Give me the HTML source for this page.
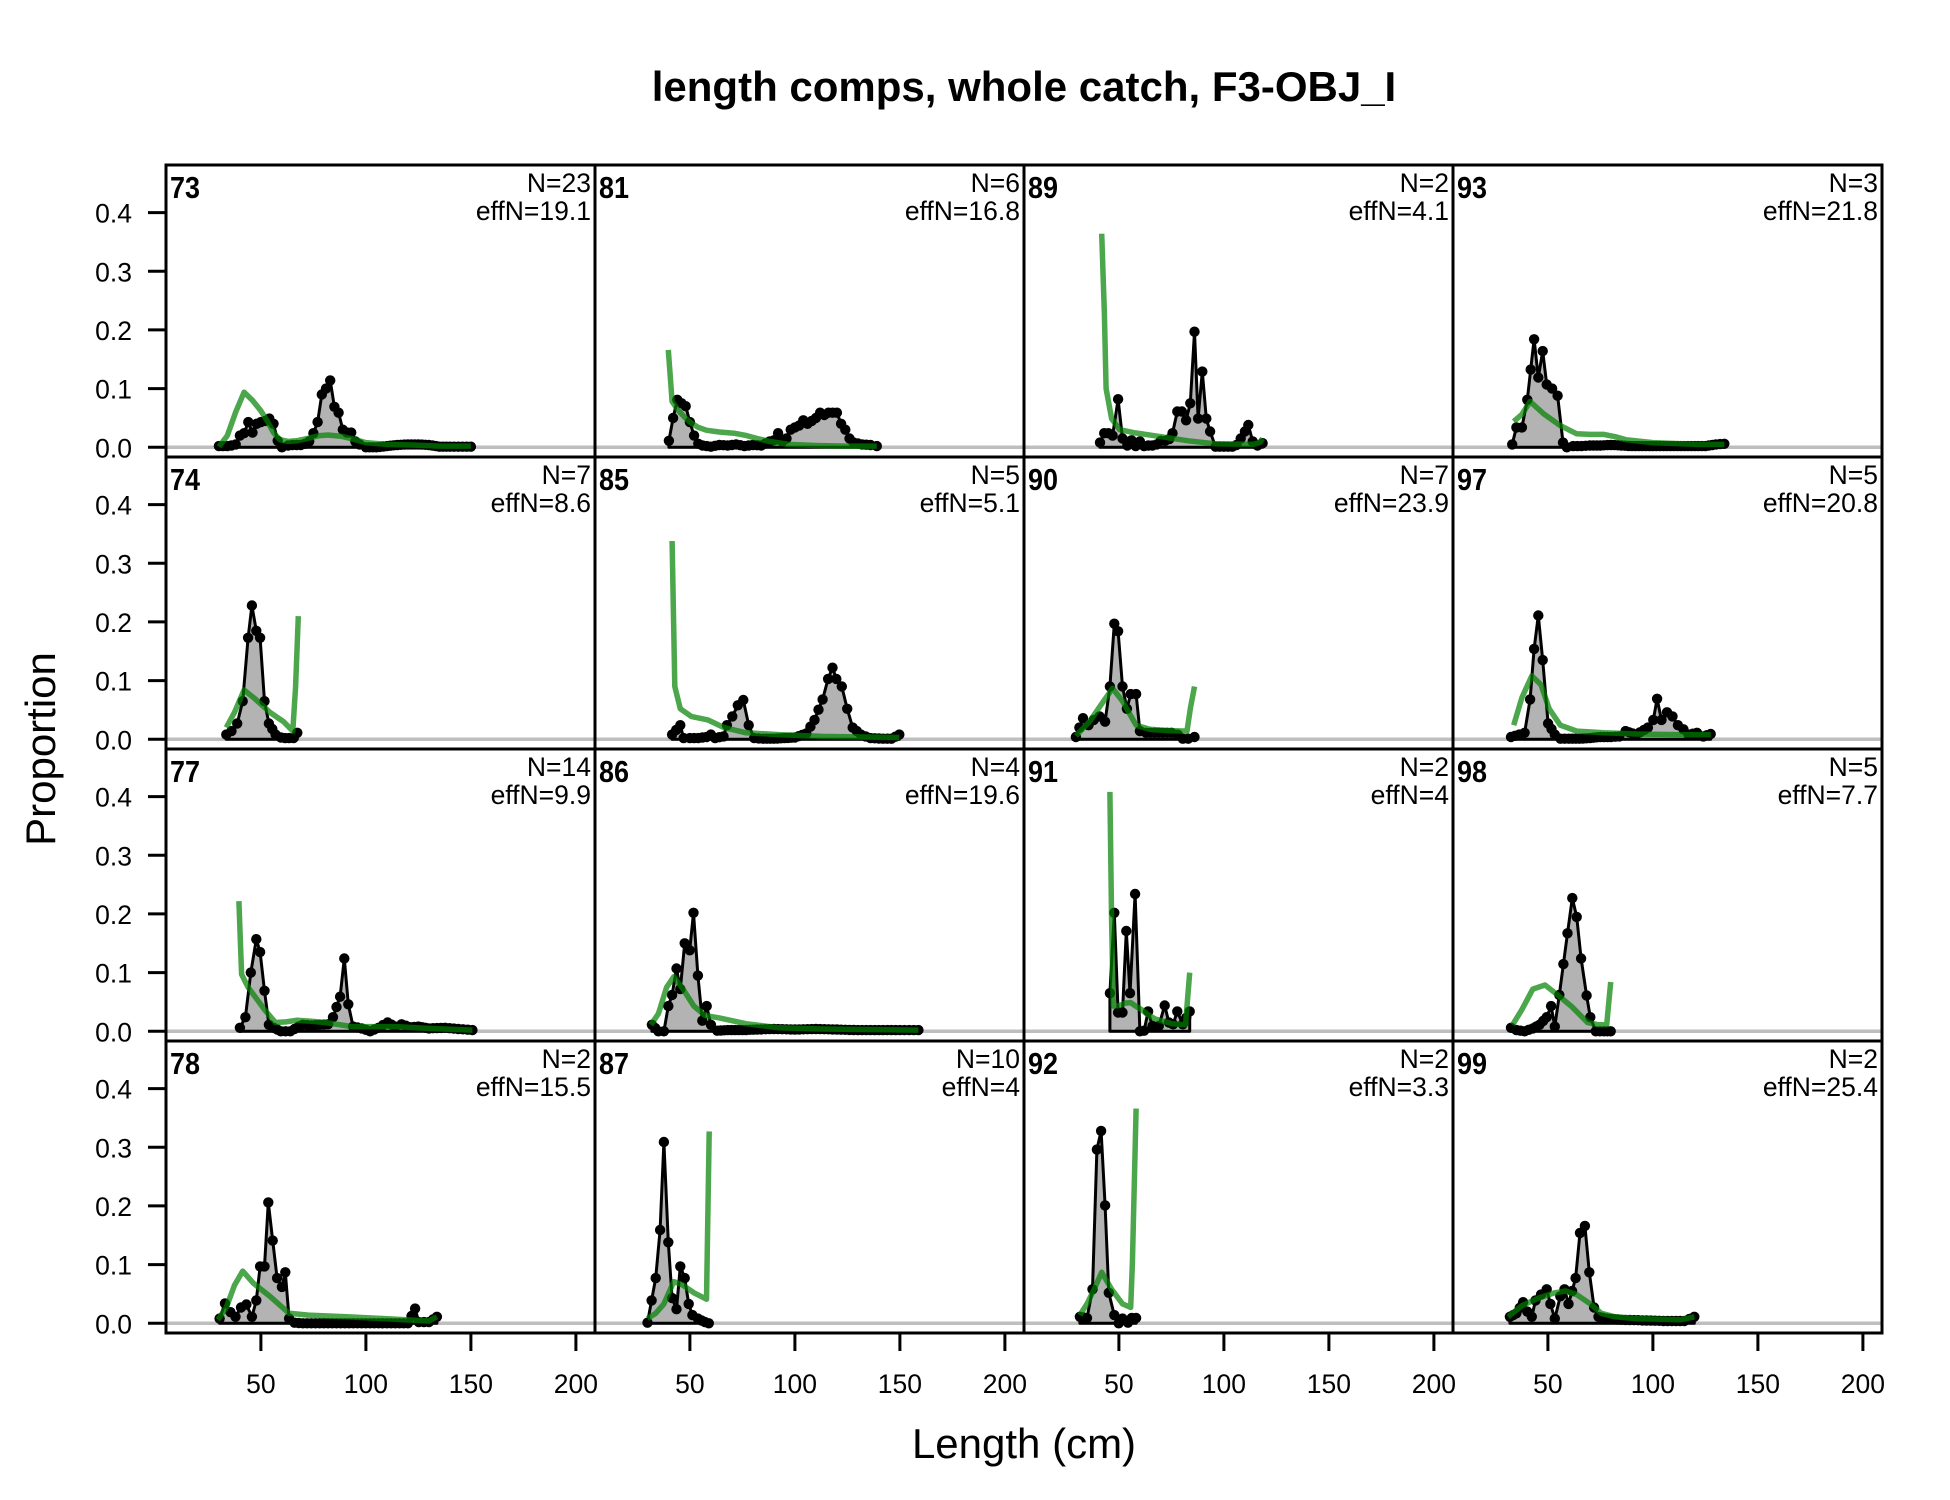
<!DOCTYPE html>
<html>
<head>
<meta charset="utf-8">
<style>
html,body{margin:0;padding:0;background:#fff;}
svg{display:block;}
text{font-family:"Liberation Sans",Arial,sans-serif;fill:#000;}
.tk{font-size:26.5px;}
.nt{font-size:26.5px;}
.pl{font-size:31px;font-weight:bold;}
</style>
</head>
<body>
<svg id="chart" width="1950" height="1500" viewBox="0 0 1950 1500" xmlns="http://www.w3.org/2000/svg">
<rect x="0" y="0" width="1950" height="1500" fill="#fff"/>
<text x="1024" y="101" text-anchor="middle" style="font-size:42px;font-weight:bold;">length comps, whole catch, F3-OBJ_I</text>
<text x="1024" y="1458" text-anchor="middle" style="font-size:42px;">Length (cm)</text>
<text x="55" y="749" text-anchor="middle" transform="rotate(-90 55 749)" style="font-size:42px;">Proportion</text>

<g id="zerolines" stroke="#bebebe" stroke-width="3.5">
<line x1="166" x2="1882" y1="447.3" y2="447.3"/>
<line x1="166" x2="1882" y1="739.3" y2="739.3"/>
<line x1="166" x2="1882" y1="1031.3" y2="1031.3"/>
<line x1="166" x2="1882" y1="1323.3" y2="1323.3"/>
</g>

<g id="data"></g>

<g stroke="#000" stroke-width="3" fill="none">
<rect x="166" y="165" width="1716" height="1168"/>
<line x1="595" x2="595" y1="165" y2="1333"/>
<line x1="1024" x2="1024" y1="165" y2="1333"/>
<line x1="1453" x2="1453" y1="165" y2="1333"/>
<line x1="166" x2="1882" y1="457" y2="457"/>
<line x1="166" x2="1882" y1="749" y2="749"/>
<line x1="166" x2="1882" y1="1041" y2="1041"/>
</g>

<g stroke="#000" stroke-width="3">
<line x1="148" x2="166" y1="447.3" y2="447.3"/><line x1="148" x2="166" y1="388.6" y2="388.6"/><line x1="148" x2="166" y1="329.9" y2="329.9"/><line x1="148" x2="166" y1="271.3" y2="271.3"/><line x1="148" x2="166" y1="212.6" y2="212.6"/>
<line x1="148" x2="166" y1="739.3" y2="739.3"/><line x1="148" x2="166" y1="680.6" y2="680.6"/><line x1="148" x2="166" y1="621.9" y2="621.9"/><line x1="148" x2="166" y1="563.3" y2="563.3"/><line x1="148" x2="166" y1="504.6" y2="504.6"/>
<line x1="148" x2="166" y1="1031.3" y2="1031.3"/><line x1="148" x2="166" y1="972.6" y2="972.6"/><line x1="148" x2="166" y1="913.9" y2="913.9"/><line x1="148" x2="166" y1="855.3" y2="855.3"/><line x1="148" x2="166" y1="796.6" y2="796.6"/>
<line x1="148" x2="166" y1="1323.3" y2="1323.3"/><line x1="148" x2="166" y1="1264.6" y2="1264.6"/><line x1="148" x2="166" y1="1205.9" y2="1205.9"/><line x1="148" x2="166" y1="1147.3" y2="1147.3"/><line x1="148" x2="166" y1="1088.6" y2="1088.6"/>
</g>
<g class="tk" text-anchor="end">
<text x="132" y="457.3">0.0</text><text x="132" y="398.6">0.1</text><text x="132" y="339.9">0.2</text><text x="132" y="281.3">0.3</text><text x="132" y="222.6">0.4</text>
<text x="132" y="749.3">0.0</text><text x="132" y="690.6">0.1</text><text x="132" y="631.9">0.2</text><text x="132" y="573.3">0.3</text><text x="132" y="514.6">0.4</text>
<text x="132" y="1041.3">0.0</text><text x="132" y="982.6">0.1</text><text x="132" y="923.9">0.2</text><text x="132" y="865.3">0.3</text><text x="132" y="806.6">0.4</text>
<text x="132" y="1333.3">0.0</text><text x="132" y="1274.6">0.1</text><text x="132" y="1215.9">0.2</text><text x="132" y="1157.3">0.3</text><text x="132" y="1098.6">0.4</text>
</g>

<g stroke="#000" stroke-width="3">
<line x1="260.9" x2="260.9" y1="1333" y2="1351"/><line x1="365.9" x2="365.9" y1="1333" y2="1351"/><line x1="470.9" x2="470.9" y1="1333" y2="1351"/><line x1="575.9" x2="575.9" y1="1333" y2="1351"/>
<line x1="689.9" x2="689.9" y1="1333" y2="1351"/><line x1="794.9" x2="794.9" y1="1333" y2="1351"/><line x1="899.9" x2="899.9" y1="1333" y2="1351"/><line x1="1004.9" x2="1004.9" y1="1333" y2="1351"/>
<line x1="1118.9" x2="1118.9" y1="1333" y2="1351"/><line x1="1223.9" x2="1223.9" y1="1333" y2="1351"/><line x1="1328.9" x2="1328.9" y1="1333" y2="1351"/><line x1="1433.9" x2="1433.9" y1="1333" y2="1351"/>
<line x1="1547.9" x2="1547.9" y1="1333" y2="1351"/><line x1="1652.9" x2="1652.9" y1="1333" y2="1351"/><line x1="1757.9" x2="1757.9" y1="1333" y2="1351"/><line x1="1862.9" x2="1862.9" y1="1333" y2="1351"/>
</g>
<g class="tk" text-anchor="middle">
<text x="260.9" y="1393">50</text><text x="365.9" y="1393">100</text><text x="470.9" y="1393">150</text><text x="575.9" y="1393">200</text>
<text x="689.9" y="1393">50</text><text x="794.9" y="1393">100</text><text x="899.9" y="1393">150</text><text x="1004.9" y="1393">200</text>
<text x="1118.9" y="1393">50</text><text x="1223.9" y="1393">100</text><text x="1328.9" y="1393">150</text><text x="1433.9" y="1393">200</text>
<text x="1547.9" y="1393">50</text><text x="1652.9" y="1393">100</text><text x="1757.9" y="1393">150</text><text x="1862.9" y="1393">200</text>
</g>

<g class="pl">
<text x="170" y="198" textLength="30" lengthAdjust="spacingAndGlyphs">73</text>
<text x="170" y="490" textLength="30" lengthAdjust="spacingAndGlyphs">74</text>
<text x="170" y="782" textLength="30" lengthAdjust="spacingAndGlyphs">77</text>
<text x="170" y="1074" textLength="30" lengthAdjust="spacingAndGlyphs">78</text>
<text x="599" y="198" textLength="30" lengthAdjust="spacingAndGlyphs">81</text>
<text x="599" y="490" textLength="30" lengthAdjust="spacingAndGlyphs">85</text>
<text x="599" y="782" textLength="30" lengthAdjust="spacingAndGlyphs">86</text>
<text x="599" y="1074" textLength="30" lengthAdjust="spacingAndGlyphs">87</text>
<text x="1028" y="198" textLength="30" lengthAdjust="spacingAndGlyphs">89</text>
<text x="1028" y="490" textLength="30" lengthAdjust="spacingAndGlyphs">90</text>
<text x="1028" y="782" textLength="30" lengthAdjust="spacingAndGlyphs">91</text>
<text x="1028" y="1074" textLength="30" lengthAdjust="spacingAndGlyphs">92</text>
<text x="1457" y="198" textLength="30" lengthAdjust="spacingAndGlyphs">93</text>
<text x="1457" y="490" textLength="30" lengthAdjust="spacingAndGlyphs">97</text>
<text x="1457" y="782" textLength="30" lengthAdjust="spacingAndGlyphs">98</text>
<text x="1457" y="1074" textLength="30" lengthAdjust="spacingAndGlyphs">99</text>
</g>

<g class="nt" text-anchor="end">
<text x="591" y="192">N=23</text><text x="591" y="220">effN=19.1</text>
<text x="591" y="484">N=7</text><text x="591" y="512">effN=8.6</text>
<text x="591" y="776">N=14</text><text x="591" y="804">effN=9.9</text>
<text x="591" y="1068">N=2</text><text x="591" y="1096">effN=15.5</text>
<text x="1020" y="192">N=6</text><text x="1020" y="220">effN=16.8</text>
<text x="1020" y="484">N=5</text><text x="1020" y="512">effN=5.1</text>
<text x="1020" y="776">N=4</text><text x="1020" y="804">effN=19.6</text>
<text x="1020" y="1068">N=10</text><text x="1020" y="1096">effN=4</text>
<text x="1449" y="192">N=2</text><text x="1449" y="220">effN=4.1</text>
<text x="1449" y="484">N=7</text><text x="1449" y="512">effN=23.9</text>
<text x="1449" y="776">N=2</text><text x="1449" y="804">effN=4</text>
<text x="1449" y="1068">N=2</text><text x="1449" y="1096">effN=3.3</text>
<text x="1878" y="192">N=3</text><text x="1878" y="220">effN=21.8</text>
<text x="1878" y="484">N=5</text><text x="1878" y="512">effN=20.8</text>
<text x="1878" y="776">N=5</text><text x="1878" y="804">effN=7.7</text>
<text x="1878" y="1068">N=2</text><text x="1878" y="1096">effN=25.4</text>
</g>
</svg>

<script>
(function(){
var L=[166,595,1024,1453], T=[165,457,749,1041];
function X(c,x){return L[c]+(x-4.8)*2.1;}
function Y(r,y){return T[r]+282.3-y*586.7;}
var P=[
{c:0,r:0,
o:[[30,0.002],[32,0.002],[34,0.002],[36,0.003],[38,0.005],[40,0.02],[42,0.024],[44,0.043],[46,0.025],[48,0.04],[50,0.043],[52,0.045],[54,0.049],[56,0.04],[58,0.011],[60,0.0],[63,0.003],[65,0.004],[67,0.004],[69,0.004],[71,0.006],[73,0.01],[75,0.024],[77,0.043],[79,0.09],[81,0.1],[83,0.114],[85,0.069],[87,0.059],[89,0.03],[91,0.025],[93,0.025],[95,0.01],[97,0.005],[100,0.0],[105,0.0],[110,0.002],[115,0.004],[120,0.005],[125,0.005],[130,0.004],[135,0.001],[140,0.001],[150,0.001]],
e:[[30,0.001],[34,0.02],[38,0.06],[42,0.094],[46,0.08],[50,0.062],[53,0.045],[56,0.025],[59,0.013],[63,0.01],[67,0.011],[72,0.015],[78,0.02],[82,0.021],[88,0.019],[94,0.014],[100,0.008],[110,0.005],[122,0.004],[135,0.002],[150,0.002]]},
{c:1,r:0,
o:[[40,0.011],[42,0.05],[44,0.081],[46,0.075],[48,0.07],[50,0.043],[52,0.02],[54,0.006],[56,0.003],[60,0.001],[64,0.004],[68,0.003],[72,0.005],[76,0.002],[80,0.004],[84,0.003],[88,0.01],[90,0.012],[92,0.024],[94,0.01],[96,0.015],[98,0.03],[100,0.034],[102,0.037],[104,0.046],[106,0.04],[108,0.045],[110,0.05],[112,0.059],[114,0.055],[116,0.059],[118,0.059],[120,0.059],[122,0.04],[124,0.03],[126,0.015],[128,0.008],[132,0.005],[136,0.004],[139,0.002]],
e:[[39.7,0.166],[41.5,0.078],[44,0.065],[47,0.053],[50,0.043],[54,0.034],[58,0.029],[64,0.026],[71,0.024],[77,0.02],[82,0.015],[88,0.01],[97,0.005],[110,0.003],[125,0.002],[139,0.002]]},
{c:2,r:0,
o:[[41,0.008],[43,0.024],[45,0.024],[47,0.02],[49.6,0.082],[51.7,0.015],[54,0.003],[56,0.012],[58,0.002],[60,0.01],[62,0.002],[64,0.003],[66,0.003],[68,0.005],[70,0.011],[72,0.011],[74,0.014],[75.5,0.024],[77.8,0.061],[80,0.061],[82,0.046],[84,0.075],[86,0.197],[87.7,0.049],[89.7,0.129],[91.6,0.049],[93.4,0.027],[96,0.001],[100,0.001],[104,0.001],[106,0.004],[108,0.015],[110,0.027],[111.6,0.038],[113.7,0.01],[116,0.003],[118.4,0.007]],
e:[[41.8,0.364],[43.1,0.227],[43.9,0.1],[46.5,0.049],[50.4,0.03],[56.9,0.025],[70,0.018],[83,0.011],[96,0.006],[114,0.005],[117,0.008],[118.4,0.015]]},
{c:3,r:0,
o:[[33,0.005],[35,0.034],[37.6,0.034],[40.2,0.081],[43.4,0.184],[45.4,0.119],[47.5,0.164],[49.4,0.107],[52,0.1],[54.6,0.088],[57.2,0.008],[59,0.0],[62,0.002],[66,0.002],[70,0.003],[75,0.003],[80,0.004],[85,0.003],[90,0.002],[95,0.002],[100,0.002],[105,0.002],[110,0.002],[115,0.002],[120,0.002],[125,0.002],[130,0.005],[134,0.006]],
e:[[33.7,0.044],[37.6,0.056],[41.5,0.078],[48,0.057],[55.9,0.037],[63.7,0.023],[70,0.022],[76.7,0.022],[82,0.018],[87.1,0.013],[100,0.008],[121,0.005],[134,0.005]]},
{c:0,r:1,
o:[[33.5,0.008],[36,0.014],[38.7,0.027],[41.3,0.065],[43.9,0.173],[45.7,0.228],[47.8,0.185],[49.6,0.173],[51.7,0.065],[53.8,0.027],[57,0.008],[59.5,0.003],[61.5,0.002],[63.4,0.002],[65.5,0.002],[67.3,0.011]],
e:[[33.5,0.02],[37.4,0.046],[42,0.084],[46.5,0.071],[54.3,0.046],[60.8,0.03],[65.2,0.014],[66.5,0.09],[67.8,0.21]]},
{c:1,r:1,
o:[[41.5,0.008],[45.4,0.024],[47,0.002],[50,0.002],[54,0.002],[58,0.004],[60,0.008],[62,0.002],[66,0.005],[67.6,0.024],[70.2,0.039],[72.8,0.058],[75.4,0.067],[78,0.024],[80.6,0.002],[85,0.001],[90,0.001],[95,0.002],[100,0.003],[105.4,0.01],[109.3,0.033],[113.2,0.068],[115.8,0.103],[117.9,0.122],[119.7,0.103],[122.3,0.09],[124.9,0.052],[127.5,0.02],[131.4,0.008],[136,0.002],[142,0.001],[146,0.001],[149.7,0.008]],
e:[[41.5,0.338],[42.8,0.09],[45.4,0.052],[50.6,0.039],[58.5,0.033],[66.3,0.02],[76.7,0.011],[92.3,0.008],[113,0.005],[149.7,0.003]]},
{c:2,r:1,
o:[[29.5,0.004],[32.9,0.036],[35.5,0.024],[38,0.033],[40.8,0.039],[43.4,0.03],[45.7,0.09],[47.8,0.197],[49.6,0.184],[51.7,0.09],[53.8,0.052],[55.6,0.077],[58.2,0.077],[60,0.014],[63,0.011],[67,0.011],[71,0.011],[75,0.011],[78,0.008],[80.4,0.001],[83,0.001],[86,0.004]],
e:[[29.5,0.006],[36,0.03],[41.3,0.058],[47,0.087],[51.7,0.065],[58.2,0.024],[64.7,0.017],[72.5,0.015],[82.4,0.014],[84,0.052],[86,0.09]]},
{c:3,r:1,
o:[[32.4,0.004],[36.3,0.008],[38.9,0.011],[41.5,0.068],[43.4,0.154],[45.4,0.211],[47.5,0.135],[50.1,0.027],[53.3,0.008],[56,0.001],[60,0.001],[65,0.001],[70,0.002],[75,0.004],[80,0.004],[84,0.005],[87,0.014],[92,0.008],[97.6,0.02],[100.2,0.033],[102,0.069],[104.1,0.033],[106.7,0.046],[109.3,0.039],[111.9,0.024],[114.5,0.017],[117,0.008],[121,0.011],[124,0.005],[127.5,0.009]],
e:[[33.7,0.024],[37.6,0.071],[42.3,0.108],[46.7,0.093],[50.6,0.052],[55.9,0.024],[63.7,0.014],[76.7,0.011],[92.3,0.009],[113,0.008],[127.5,0.008]]},
{c:0,r:2,
o:[[40,0.006],[42.6,0.024],[45.2,0.1],[47.8,0.157],[49.6,0.135],[51.7,0.069],[53.8,0.011],[56,0.006],[59.5,0.0],[64,0.0],[68,0.008],[70,0.011],[74,0.01],[78,0.011],[82,0.012],[84.3,0.024],[87.7,0.059],[89.7,0.124],[91.6,0.046],[93.9,0.008],[98,0.005],[102,0.0],[106,0.006],[110.3,0.015],[114,0.008],[117,0.012],[121,0.007],[125,0.008],[130,0.005],[137.7,0.006],[144,0.004],[150.7,0.002]],
e:[[39.5,0.222],[40.8,0.097],[43.9,0.075],[47,0.06],[51.7,0.037],[56.9,0.015],[62,0.016],[67.3,0.019],[74,0.017],[80.4,0.015],[93.4,0.008],[114.2,0.008],[130,0.005],[150.7,0.002]]},
{c:1,r:2,
o:[[31.9,0.011],[35,0.0],[37.6,0.0],[39.7,0.043],[41.5,0.062],[43.6,0.107],[45.4,0.072],[47.5,0.15],[49.9,0.138],[51.7,0.202],[53.8,0.095],[55.9,0.018],[58,0.043],[60,0.011],[63,0.001],[68,0.002],[75,0.002],[82,0.003],[90,0.004],[100,0.003],[110,0.004],[120,0.003],[130,0.002],[140,0.002],[150,0.002],[158.8,0.002]],
e:[[31.4,0.011],[35,0.03],[38.9,0.075],[42.3,0.093],[46.7,0.072],[51.9,0.043],[57.2,0.027],[63.7,0.023],[76.7,0.013],[92.3,0.006],[113,0.004],[158.8,0.002]]},
{c:2,r:2,
o:[[45.7,0.065],[47.8,0.202],[49.6,0.032],[51.7,0.032],[53.5,0.171],[55.3,0.065],[57.7,0.234],[60,0.0],[62,0.001],[63.9,0.034],[66,0.009],[69,0.009],[71.8,0.044],[73.8,0.015],[75.8,0.012],[77.8,0.034],[80.4,0.012],[83.7,0.034]],
e:[[45.7,0.408],[46.5,0.189],[47.3,0.043],[50.4,0.044],[53,0.048],[55.6,0.049],[58,0.043],[60.8,0.037],[64,0.028],[67.3,0.021],[75.2,0.013],[81.7,0.011],[83.7,0.1]]},
{c:3,r:2,
o:[[32.4,0.006],[35,0.002],[38.9,0.0],[42.8,0.005],[46,0.011],[49.4,0.024],[51.5,0.043],[53.3,0.008],[55.4,0.062],[59.3,0.167],[61.6,0.227],[63.7,0.195],[65.8,0.124],[68.4,0.061],[70.2,0.024],[72.8,0.0],[76.7,0.0],[79.9,0.0]],
e:[[33.2,0.011],[37.6,0.037],[42.8,0.072],[48.6,0.079],[54.6,0.062],[61.1,0.043],[68.9,0.015],[74.1,0.011],[78,0.011],[79.9,0.084]]},
{c:0,r:3,
o:[[30.3,0.008],[32.9,0.034],[35.5,0.019],[37.9,0.011],[40.5,0.027],[43.1,0.032],[45.7,0.011],[47.8,0.039],[49.6,0.097],[51.7,0.097],[53.5,0.206],[55.6,0.141],[57.7,0.077],[60,0.062],[61.6,0.087],[63.4,0.008],[66,0.001],[70,0.0],[80,0.0],[90,0.0],[100,0.0],[110,0.0],[120,0.0],[123.4,0.025],[125.2,0.002],[130,0.002],[133.8,0.011]],
e:[[29.5,0.006],[33.5,0.027],[37.4,0.065],[41.3,0.089],[46.5,0.068],[54.3,0.046],[63.4,0.017],[72.5,0.014],[90.8,0.011],[109,0.008],[129.9,0.004],[133.8,0.011]]},
{c:1,r:3,
o:[[29.8,0.001],[33.7,0.077],[35.8,0.159],[37.6,0.309],[39.7,0.138],[41.5,0.043],[43.6,0.024],[45.4,0.097],[47.5,0.077],[49.4,0.033],[51.2,0.014],[53.8,0.008],[57.2,0.002],[59,0.0]],
e:[[29.8,0.008],[33.7,0.017],[37.6,0.033],[42.3,0.071],[46.7,0.065],[51.9,0.052],[57.9,0.041],[59.2,0.327]]},
{c:2,r:3,
o:[[31.4,0.011],[34.8,0.009],[37.4,0.058],[39.5,0.296],[41.5,0.328],[43.4,0.201],[45.2,0.052],[47.8,0.014],[49.9,0.0],[51.7,0.008],[54.3,0.001],[56.1,0.009],[58.2,0.009]],
e:[[31.4,0.014],[34.8,0.033],[38.2,0.058],[41.8,0.087],[46.5,0.058],[51.7,0.033],[55.6,0.027],[56.4,0.103],[58.2,0.366]]},
{c:3,r:3,
o:[[31.9,0.011],[35,0.017],[38.2,0.036],[40.2,0.02],[42.3,0.011],[44.1,0.039],[46.7,0.049],[49.4,0.058],[51.2,0.033],[53.3,0.008],[55.9,0.046],[57.9,0.058],[59.8,0.033],[63.2,0.077],[65.3,0.154],[67.6,0.166],[69.7,0.087],[72,0.027],[74.1,0.011],[78,0.008],[85,0.006],[95,0.005],[105,0.004],[115,0.004],[119.7,0.011]],
e:[[31.1,0.011],[37.6,0.03],[45.4,0.043],[53.3,0.052],[58.5,0.055],[63.7,0.049],[70.2,0.033],[75.4,0.017],[81.9,0.011],[92.3,0.008],[113,0.006],[119.7,0.011]]}
];
var NS="http://www.w3.org/2000/svg";
var g=document.getElementById("data");
function el(n,a){var e=document.createElementNS(NS,n);for(var k in a)e.setAttribute(k,a[k]);return e;}
P.forEach(function(p){
  var o=p.o, pts=[];
  for(var i=0;i<o.length;i++){
    pts.push(o[i]);
    if(i<o.length-1){
      var a=o[i],b=o[i+1],d=b[0]-a[0];
      if(d>3){
        var n=Math.round(d/2.0);
        for(var j=1;j<n;j++){
          var t=j/n;pts.push([a[0]+d*t,a[1]+(b[1]-a[1])*t]);
        }
      }
    }
  }
  var s=[];
  pts.forEach(function(q){s.push(X(p.c,q[0]).toFixed(1)+","+Y(p.r,q[1]).toFixed(1));});
  s.push(X(p.c,pts[pts.length-1][0]).toFixed(1)+","+Y(p.r,0).toFixed(1));
  s.push(X(p.c,pts[0][0]).toFixed(1)+","+Y(p.r,0).toFixed(1));
  g.appendChild(el("polygon",{points:s.join(" "),fill:"#b3b3b3",stroke:"#000","stroke-width":"3","stroke-linejoin":"round"}));
  pts.forEach(function(q){
    g.appendChild(el("circle",{cx:X(p.c,q[0]).toFixed(1),cy:Y(p.r,q[1]).toFixed(1),r:"5.2",fill:"#000"}));
  });
  var e=[];
  p.e.forEach(function(q){e.push(X(p.c,q[0]).toFixed(1)+","+Y(p.r,q[1]).toFixed(1));});
  g.appendChild(el("polyline",{points:e.join(" "),fill:"none",stroke:"rgba(0,128,0,0.7)","stroke-width":"5.5","stroke-linejoin":"round"}));
});
})();
</script>
</body>
</html>
